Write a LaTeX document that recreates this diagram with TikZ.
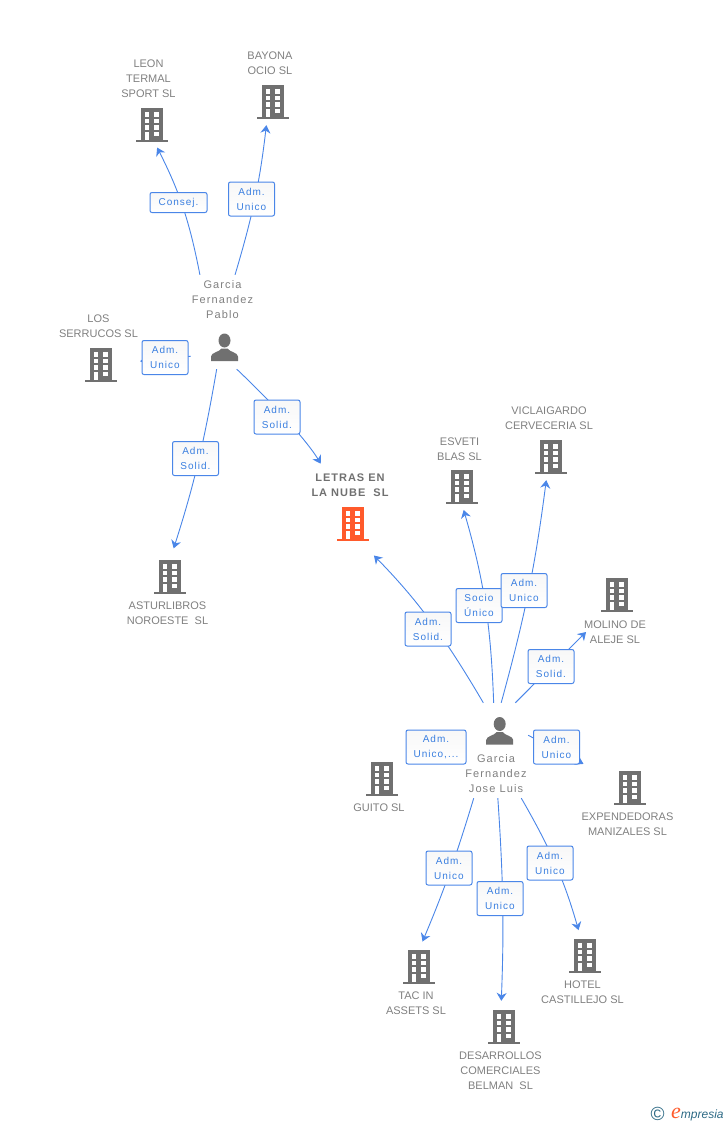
\documentclass[tikz,border=0pt]{standalone}
\usepackage{fontspec}
\usetikzlibrary{arrows.meta,positioning}
\setmainfont{Liberation Sans}
\newfontfamily\tagfont[LetterSpace=10]{Liberation Sans}
\newfontfamily\mainnamefont[LetterSpace=9]{Liberation Sans}
\newfontfamily\personfont[LetterSpace=10]{Liberation Sans}
\newfontfamily\logofont{Liberation Serif}
\definecolor{empblue}{RGB}{74,134,232}
\definecolor{emptext}{RGB}{58,127,224}
\definecolor{empgray}{RGB}{112,112,112}
\definecolor{emplabel}{RGB}{128,128,128}
\definecolor{emporange}{RGB}{255,90,43}
\definecolor{empteal}{RGB}{45,106,133}
% building and person drawn inside their node
\newcommand{\bldgshape}[1]{
  \begin{scope}[shift={(path picture bounding box.center)}]
    \fill[#1] (-11,-17) rectangle (11,15);
    \fill[#1] (-16,15) rectangle (16,17);
    \foreach \r in {-13,-6.4,0.3,6.7} {
      \fill[white] (-7.3,\r) rectangle (-2.7,\r+4.6);
      \fill[white] (2.4,\r) rectangle (7.4,\r+4.6);
    }
    \fill[white] (-7.3,10) rectangle (-2.7,15);
  \end{scope}
}
\newcommand{\personshape}{
  \begin{scope}[shift={(path picture bounding box.center)}]
    \fill[empgray] (0,-7) ellipse [x radius=6,y radius=7];
    \fill[empgray] (-13.5,13.5) -- (-13.5,9) .. controls (-13.5,5) and (-5,4.5) .. (-3,1) -- (3,1)
      .. controls (5,4.5) and (13.5,5) .. (13.5,9) -- (13.5,13.5) -- cycle;
  \end{scope}
}
\tikzstyle{arrow} = [line width=0.9pt,->,>={Stealth[length=8pt,width=10pt]},color=empblue]
\tikzstyle{tagbox} = [rectangle, rounded corners=2pt, minimum width=46pt, minimum height=34pt, inner sep=0pt,
    draw=empblue, line width=1pt, top color=black!3, bottom color=white, text=emptext, align=center,
    font=\tagfont\fontsize{10}{15}\selectfont]
\tikzstyle{bldg} = [rectangle, minimum size=34pt, inner sep=0pt, path picture={\bldgshape{empgray}}]
\tikzstyle{mainbldg} = [rectangle, minimum size=34pt, inner sep=0pt, path picture={\bldgshape{emporange}}]
\tikzstyle{personicon} = [rectangle, minimum size=29pt, inner sep=0pt, path picture={\personshape}]
\tikzstyle{namelabel} = [inner sep=0pt, align=center, text=emplabel, font=\fontsize{11}{15}\selectfont]
\tikzstyle{personlabel} = [inner sep=0pt, align=center, text=emplabel, font=\personfont\fontsize{11}{15}\selectfont]

\begin{document}
\begin{tikzpicture}[x=1pt,y=-1pt]
\useasboundingbox (0,0) rectangle (728,1125);
% people
\node[minimum width=68pt, minimum height=94pt, inner sep=0pt] (pablo) at (225,322) {};
\node[minimum width=62pt, minimum height=95pt, inner sep=0pt] (jose) at (497,750.5) {};
\node[personicon] (pabloicon) at (224.5,347.5) {};
\node[personicon] (joseicon) at (499.7,731) {};
\node[personlabel] (pablolabel) at (222.5,299.5) {Garcia\\Fernandez\\Pablo};
\node[personlabel] (joselabel) at (496,773.5) {Garcia\\Fernandez\\Jose Luis};
% companies
\node[bldg] (leon) at (152,125) {};
\node[bldg] (bayona) at (273,102) {};
\node[bldg] (serrucos) at (101,365) {};
\node[bldg] (asturlibros) at (170,577) {};
\node[mainbldg] (letras) at (353,524) {};
\node[bldg] (esveti) at (462,487) {};
\node[bldg] (viclaigardo) at (551,457) {};
\node[bldg] (molino) at (617,595) {};
\node[bldg] (expendedoras) at (630,788) {};
\node[bldg] (guito) at (382,779) {};
\node[bldg] (tacin) at (419,967) {};
\node[bldg] (desarrollos) at (504,1027) {};
\node[bldg] (hotel) at (585,956) {};
\node[namelabel] (leonlabel) at (148.5,79) {LEON\\TERMAL\\SPORT SL};
\node[namelabel] (bayonalabel) at (270,63.5) {BAYONA\\OCIO SL};
\node[namelabel] (serrucoslabel) at (98.5,326.5) {LOS\\SERRUCOS SL};
\node[namelabel] (asturlibroslabel) at (167.5,613) {ASTURLIBROS\\NOROESTE~ SL};
\node[namelabel, text=empgray, font=\mainnamefont\bfseries\fontsize{11}{15}\selectfont] (letraslabel) at (350,485) {LETRAS EN\\LA NUBE~ SL};
\node[namelabel] (esvetilabel) at (459.5,449) {ESVETI\\BLAS SL};
\node[namelabel] (viclaigardolabel) at (549,418.5) {VICLAIGARDO\\CERVECERIA SL};
\node[namelabel] (molinolabel) at (615,632) {MOLINO DE\\ALEJE SL};
\node[namelabel] (expendedoraslabel) at (627.5,824.5) {EXPENDEDORAS\\MANIZALES SL};
\node[namelabel] (guitolabel) at (379,808) {GUITO SL};
\node[namelabel] (tacinlabel) at (416,1003.5) {TAC IN\\ASSETS SL};
\node[namelabel] (desarrolloslabel) at (500.5,1071) {DESARROLLOS\\COMERCIALES\\BELMAN~ SL};
\node[namelabel] (hotellabel) at (582.5,992) {HOTEL\\CASTILLEJO SL};
% links from Pablo
\draw[arrow, shorten >=6pt] (pablo.118) to[bend right=8] (leon.278);
\draw[arrow, shorten >=6pt] (pablo.78) to[bend right=5] (bayona.251);
\draw[arrow, shorten >=22pt] (pablo.225) to (serrucos);
\draw[arrow, shorten >=12pt] (pablo.260) to[bend left=4] (asturlibros.north);
\draw[arrow, shorten >=50pt] (pablo.284) to[bend left=8] (letras.112);
% links from Jose Luis
\draw[arrow, shorten >=20pt] (jose.106.8) to[bend right=7] (letras.292);
\draw[arrow, shorten >=6pt] (jose.94) to[bend right=7] (esveti.south);
\draw[arrow, shorten >=6pt] (jose.85.2) to[bend right=4] (viclaigardo.257);
\draw[arrow, shorten >=28pt] (jose.69.2) to (molino.237);
\draw[arrow, shorten >=33pt] (jose.26.6) to (expendedoras);
\draw[arrow, shorten >=15pt] (jose.150.6) to (guito);
\draw[arrow, shorten >=9pt] (jose.244.2) to[bend left=3] (tacin.north);
\draw[arrow, shorten >=9pt] (jose.271) to[bend left=3] (desarrollos.100);
\draw[arrow, shorten >=9pt] (jose.297.8) to[bend left=7] (hotel.103);
% tags over the links
\node[tagbox, minimum width=57pt, minimum height=20pt] (tagleon) at (178.5,202.5) {Consej.};
\node[tagbox] (tagbayona) at (251.5,199) {Adm.\\Unico};
\node[tagbox] (tagserrucos) at (165,357.5) {Adm.\\Unico};
\node[tagbox] (tagasturlibros) at (195.5,458.5) {Adm.\\Solid.};
\node[tagbox] (tagletras) at (277,417) {Adm.\\Solid.};
\node[tagbox] (tagjoseletras) at (428,629) {Adm.\\Solid.};
\node[tagbox] (tagesveti) at (479,605.5) {Socio\\Único};
\node[tagbox] (tagviclaigardo) at (524,590.5) {Adm.\\Unico};
\node[tagbox] (tagmolino) at (551,666.5) {Adm.\\Solid.};
\node[tagbox, minimum width=60pt] (tagguito) at (436,747) {Adm.\\Unico,...};
\node[tagbox] (tagexpendedoras) at (556.5,747) {Adm.\\Unico};
\node[tagbox] (tagtacin) at (449,868) {Adm.\\Unico};
\node[tagbox] (tagdesarrollos) at (500,898.5) {Adm.\\Unico};
\node[tagbox] (taghotel) at (550,863) {Adm.\\Unico};
% logo
\node[inner sep=0pt, text=empteal, font=\fontsize{19}{19}\selectfont] (logomark) at (657.5,1114) {©};
\node[inner sep=0pt, anchor=base west, text=empteal, font=\fontsize{12}{12}\selectfont\itshape] (logotext) at (671,1118) {{\logofont\fontsize{22}{22}\selectfont\color{emporange}e}mpresia};
\end{tikzpicture}
\end{document}
